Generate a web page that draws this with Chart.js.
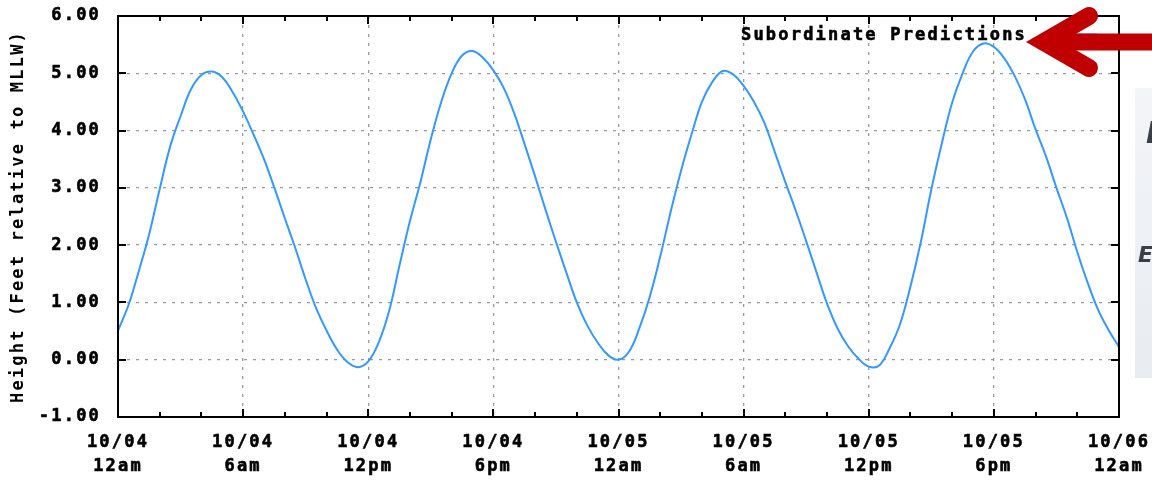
<!DOCTYPE html>
<html>
<head>
<meta charset="utf-8">
<script src="https://cdn.jsdelivr.net/npm/chart.js@4.4.0/dist/chart.umd.min.js"></script>
<style>
  html, body { margin: 0; padding: 0; background: #fff; }
  canvas { display: block; }
</style>
</head>
<body>
<canvas id="tideChart" width="1152" height="483"></canvas>
<script>
// hours since 10/04 12am
var hours = [
  0, 0.5, 1, 1.5, 2, 2.5, 3, 3.5, 4, 4.5, 5, 5.5,
  6, 6.5, 7, 7.5, 8, 8.5, 9, 9.5, 10, 10.5, 11, 11.5,
  12, 12.5, 13, 13.5, 14, 14.5, 15, 15.5, 16, 16.5, 17, 17.5,
  18, 18.5, 19, 19.5, 20, 20.5, 21, 21.5, 22, 22.5, 23, 23.5,
  24, 24.5, 25, 25.5, 26, 26.5, 27, 27.5, 28, 28.5, 29, 29.5,
  30, 30.5, 31, 31.5, 32, 32.5, 33, 33.5, 34, 34.5, 35, 35.5,
  36, 36.5, 37, 37.5, 38, 38.5, 39, 39.5, 40, 40.5, 41, 41.5,
  42, 42.5, 43, 43.5, 44, 44.5, 45, 45.5, 46, 46.5, 47, 47.5,
  48
];

// feet relative to MLLW
var heights = [
  0.51, 0.95, 1.55, 2.2, 2.98, 3.72, 4.25, 4.72, 4.97, 5.03, 4.93, 4.67,
  4.33, 3.93, 3.5, 3.0, 2.47, 1.95, 1.4, 0.9, 0.51, 0.18, -0.04, -0.13,
  -0.03, 0.3, 0.85, 1.65, 2.42, 3.1, 3.85, 4.5, 5.0, 5.31, 5.39, 5.27,
  5.05, 4.74, 4.3, 3.76, 3.2, 2.62, 2.06, 1.52, 1.0, 0.6, 0.3, 0.08,
  0.0, 0.14, 0.55, 1.1, 1.8, 2.58, 3.3, 3.93, 4.5, 4.85, 5.04, 4.98,
  4.78, 4.5, 4.13, 3.62, 3.1, 2.6, 2.07, 1.52, 0.98, 0.55, 0.24, 0.02,
  -0.12, -0.1, 0.2, 0.62, 1.28, 2.06, 2.97, 3.77, 4.49, 5.0, 5.38, 5.52,
  5.46, 5.26, 4.95, 4.54, 4.02, 3.55, 3.0, 2.48, 1.88, 1.34, 0.87, 0.52,
  0.22
];

var dayLabels = ["10/04", "10/04", "10/04", "10/04", "10/05", "10/05", "10/05", "10/05", "10/06"];
var timeLabels = ["12am", "6am", "12pm", "6pm", "12am", "6am", "12pm", "6pm", "12am"];

var seriesName = "Subordinate Predictions";
var yTitle = "Height (Feet relative to MLLW)";

var fontFamily = "'DejaVu Sans Mono', 'Liberation Mono', monospace";
var tickFont = { family: fontFamily, size: 17, weight: "bold", lineHeight: 1.4 };
var letterGap = "2.2px";

// wide pixel-ish text like the original
var spacingPlugin = {
  id: "spacing",
  beforeUpdate: function (chart) {
    chart.ctx.letterSpacing = letterGap;
  },
  beforeDraw: function (chart) {
    chart.ctx.letterSpacing = letterGap;
  },
};

// legend in the top right corner: text, then the line sample
var legendPlugin = {
  id: "cornerLegend",
  afterDatasetsDraw: function (chart) {
    var ctx = chart.ctx;
    var ds = chart.data.datasets[0];
    var area = chart.chartArea;
    ctx.save();
    ctx.letterSpacing = letterGap;
    ctx.font = "bold 17px " + fontFamily;
    ctx.fillStyle = "#000";
    ctx.strokeStyle = "#000";
    ctx.lineWidth = 0.6;
    ctx.textAlign = "right";
    ctx.textBaseline = "middle";
    var tx = area.right - 92;
    var ty = area.top + 20;
    ctx.fillText(ds.label, tx, ty);
    ctx.strokeText(ds.label, tx, ty);
    ctx.strokeStyle = ds.borderColor;
    ctx.lineWidth = 3;
    ctx.beginPath();
    ctx.moveTo(tx + 14, ty - 1);
    ctx.lineTo(tx + 70, ty - 1);
    ctx.stroke();
    ctx.restore();
  },
};

// inward tick marks and the black frame
var framePlugin = {
  id: "frame",
  afterDraw: function (chart) {
    var ctx = chart.ctx;
    var area = chart.chartArea;
    var xs = chart.scales.x;
    var ys = chart.scales.y;
    ctx.save();
    ctx.strokeStyle = "#000";
    ctx.lineWidth = 2;
    xs.ticks.forEach(function (t) {
      var px = Math.round(xs.getPixelForValue(t.value));
      var len = t.value % 6 === 0 ? 8 : 5;
      ctx.beginPath();
      ctx.moveTo(px, area.bottom);
      ctx.lineTo(px, area.bottom - len);
      ctx.moveTo(px, area.top);
      ctx.lineTo(px, area.top + len);
      ctx.stroke();
    });
    ys.ticks.forEach(function (t) {
      var py = Math.round(ys.getPixelForValue(t.value));
      ctx.beginPath();
      ctx.moveTo(area.left, py);
      ctx.lineTo(area.left + 8, py);
      ctx.moveTo(area.right, py);
      ctx.lineTo(area.right - 8, py);
      ctx.stroke();
    });
    ctx.strokeRect(area.left, area.top, area.right - area.left, area.bottom - area.top);
    ctx.restore();
  },
};

// pieces of the screenshot around the chart: side panel and red arrow
var overlayPlugin = {
  id: "overlay",
  afterDraw: function (chart) {
    var ctx = chart.ctx;
    ctx.save();
    ctx.letterSpacing = "0px";
    var g = ctx.createLinearGradient(0, 88, 0, 378);
    g.addColorStop(0, "#f3f5f8");
    g.addColorStop(1, "#e8ecf1");
    ctx.fillStyle = g;
    ctx.fillRect(1135, 88, 17, 290);
    ctx.fillStyle = "#3a3f47";
    ctx.font = "italic bold 30px 'DejaVu Sans'";
    ctx.fillText("I", 1146, 143);
    ctx.font = "italic bold 22px 'DejaVu Sans'";
    ctx.fillText("E", 1138, 262);

    ctx.strokeStyle = "#c00000";
    ctx.lineCap = "round";
    ctx.lineJoin = "miter";
    ctx.lineWidth = 18;
    ctx.beginPath();
    ctx.moveTo(1089, 16);
    ctx.lineTo(1044, 42);
    ctx.lineTo(1089, 68);
    ctx.stroke();
    ctx.lineCap = "butt";
    ctx.lineWidth = 17;
    ctx.beginPath();
    ctx.moveTo(1050, 42);
    ctx.lineTo(1152, 42);
    ctx.stroke();
    ctx.restore();
  },
};

var points = hours.map(function (h, i) {
  return { x: h, y: heights[i] };
});

var ctx = document.getElementById("tideChart").getContext("2d");
new Chart(ctx, {
  type: "line",
  data: {
    datasets: [
      {
        label: seriesName,
        data: points,
        borderColor: "#3399ff",
        borderWidth: 2,
        pointRadius: 0,
        tension: 0.4,
        fill: false,
      },
    ],
  },
  options: {
    responsive: false,
    animation: false,
    layout: { padding: { top: 16, right: 33, left: 0, bottom: 0 } },
    plugins: {
      legend: { display: false },
      tooltip: { enabled: false },
    },
    scales: {
      x: {
        type: "linear",
        min: 0,
        max: 48,
        afterFit: function (scale) {
          scale.height = 66;
          scale.paddingLeft = 0;
          scale.paddingRight = 0;
        },
        ticks: {
          stepSize: 2,
          autoSkip: false,
          maxRotation: 0,
          padding: 14,
          color: "#000",
          font: tickFont,
          textStrokeColor: "#000",
          textStrokeWidth: 0.6,
          callback: function (v) {
            if (v % 6 !== 0) return "";
            return [dayLabels[v / 6], timeLabels[v / 6]];
          },
        },
        grid: {
          drawTicks: false,
          lineWidth: 1.3,
          color: function (c) {
            return c.tick && c.tick.value % 6 === 0 ? "#9a9a9a" : "rgba(0,0,0,0)";
          },
        },
        border: { display: false, dash: [3, 6] },
      },
      y: {
        min: -1,
        max: 6,
        afterFit: function (scale) {
          scale.width = 118;
          scale.paddingTop = 0;
          scale.paddingBottom = 0;
        },
        ticks: {
          stepSize: 1,
          padding: 17,
          color: "#000",
          font: tickFont,
          textStrokeColor: "#000",
          textStrokeWidth: 0.6,
          callback: function (v) {
            return v.toFixed(2);
          },
        },
        title: {
          display: true,
          text: yTitle,
          color: "#000",
          font: { family: fontFamily, size: 17, weight: "bold", lineHeight: 1.2 },
          padding: { top: 8, bottom: 0 },
        },
        grid: {
          drawTicks: false,
          lineWidth: 1.3,
          color: "#9a9a9a",
        },
        border: { display: false, dash: [3, 6] },
      },
    },
  },
  plugins: [spacingPlugin, legendPlugin, framePlugin, overlayPlugin],
});
</script>
</body>
</html>
